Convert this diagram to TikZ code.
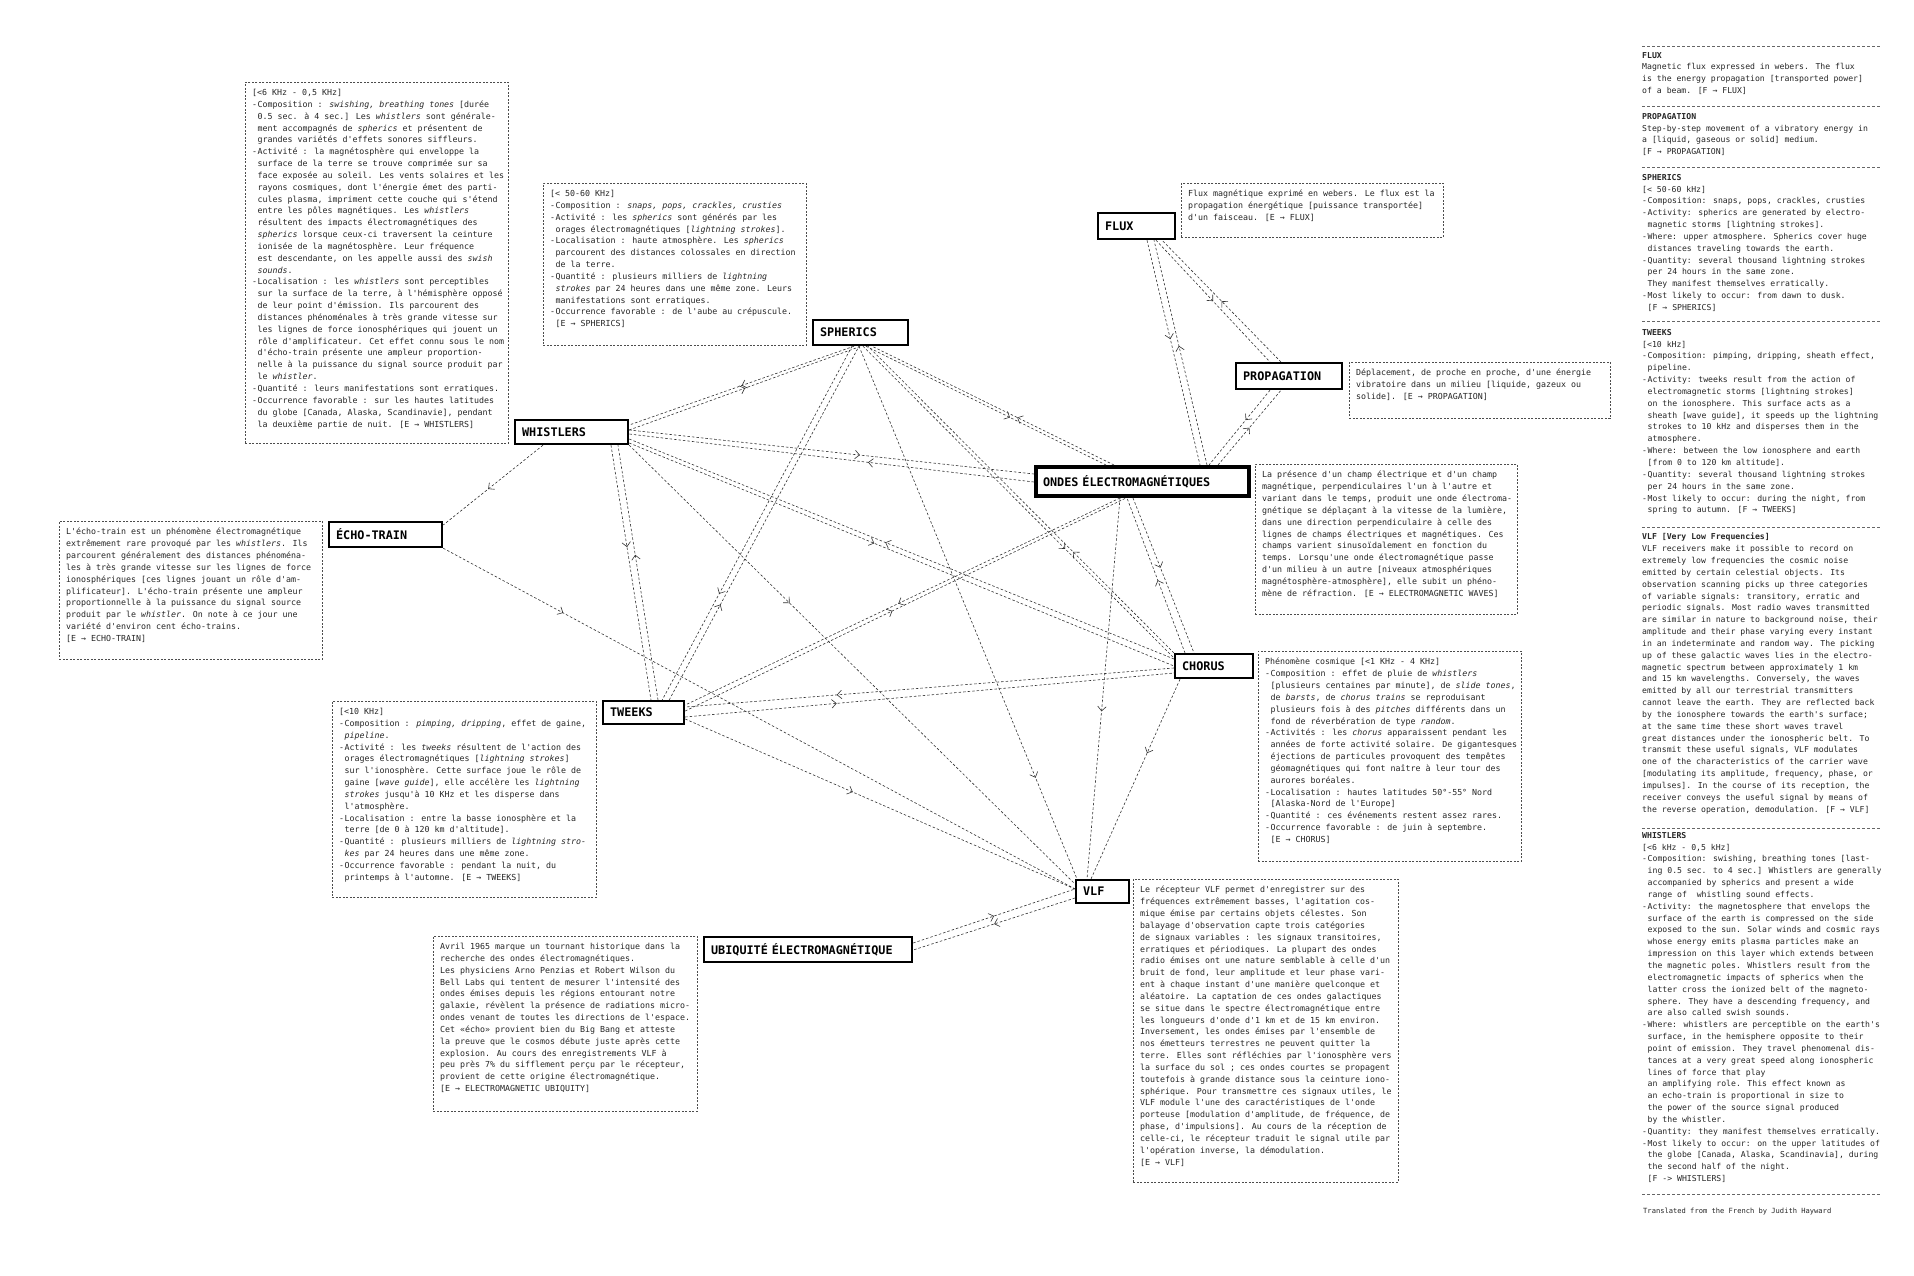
\documentclass[tikz,border=0pt]{standalone}
\usepackage{fontspec}
\newfontfamily\mono{DejaVu Sans Mono}
\usetikzlibrary{arrows.meta,decorations.markings,calc}
\newcommand\bodyf{\mono\fontsize{8.3}{11.84}\selectfont}
\newcommand\rbodyf{\mono\fontsize{8.15}{11.84}\selectfont}
\newcommand\lblf{\mono\bfseries\fontsize{11.8}{14}\selectfont}
\newcommand\smallf{\mono\fontsize{7.1}{9}\selectfont}
\newcommand\di{\makebox[5.5pt][l]{-}}
\newcommand\ci{\hspace*{5.5pt}}
\tikzset{
 lbl/.style={draw, line width=2.2pt, anchor=north west, inner xsep=7pt, inner ysep=0pt, font=\lblf, align=left},
 tbox/.style={draw=black!70, line width=0.6pt, dash pattern=on 2pt off 1.5pt, anchor=north west, inner sep=0pt},
 ttext/.style={anchor=north west, inner sep=0pt, font=\bodyf, align=left, text=black!85},
 rtext/.style={anchor=north west, inner sep=0pt, font=\rbodyf, align=left, text=black!85},
 conn/.style={draw=black!80, line width=0.6pt, dash pattern=on 2.5pt off 2pt},
 ma/.style={postaction={decorate, decoration={markings, mark=at position #1 with {\arrow[solid, black!80, line width=0.6pt]{Straight Barb[length=4.5pt,width=8.5pt]}}}}},
 sepl/.style={draw=black!60, line width=0.6pt, dash pattern=on 2.5pt off 2.5pt},
}
\begin{document}
\begin{tikzpicture}[x=1pt,y=-1pt]
\useasboundingbox (0,0) rectangle (1914,1276);
\fill[white] (0,0) rectangle (1914,1276);

% ---------- labelled nodes ----------
\node[lbl, minimum height=26pt, text width=63pt] (flux) at (1097,212) {FLUX};
\node[lbl, minimum height=25pt, text width=81pt] (spherics) at (812,319) {SPHERICS};
\node[lbl, minimum height=26pt, text width=92pt] (prop) at (1235,362) {PROPAGATION};
\node[lbl, minimum height=24pt, text width=99pt] (whistlers) at (514,419) {WHISTLERS};
\node[lbl, line width=4pt, minimum height=29pt, text width=199pt] (ondes) at (1034,465) {ONDES ÉLECTROMAGNÉTIQUES};
\node[lbl, minimum height=25pt, text width=99pt] (echo) at (328,521) {ÉCHO-TRAIN};
\node[lbl, minimum height=24pt, text width=64pt] (chorus) at (1174,653) {CHORUS};
\node[lbl, minimum height=23pt, text width=67pt] (tweeks) at (602,700) {TWEEKS};
\node[lbl, minimum height=23pt, text width=39pt] (vlf) at (1075,879) {VLF};
\node[lbl, minimum height=25pt, text width=194pt] (ubiq) at (703,936) {UBIQUITÉ ÉLECTROMAGNÉTIQUE};

% ---------- connectors ----------
% spherics - whistlers
\draw[conn, ma=0.5] ($(spherics.south west)+(42,0)$) -- ($(whistlers.north east)+(0,6)$);
\draw[conn, ma=0.5] ($(whistlers.north east)+(0,11)$) -- ($(spherics.south west)+(49,0)$);
% spherics - ondes
\draw[conn, ma=0.6] ($(spherics.south west)+(54,0)$) -- ($(ondes.north west)+(72,0)$);
\draw[conn, ma=0.4] ($(ondes.north west)+(80,0)$) -- ($(spherics.south west)+(60,0)$);
% whistlers - ondes
\draw[conn, ma=0.57] ($(whistlers.north east)+(0,11)$) -- ($(ondes.north west)+(0,9)$);
\draw[conn, ma=0.41] ($(ondes.north west)+(0,17)$) -- ($(whistlers.north east)+(0,15)$);
% whistlers - chorus
\draw[conn, ma=0.53] ($(chorus.north west)+(0,6)$) -- ($(whistlers.north east)+(0,20)$);
\draw[conn, ma=0.45] ($(whistlers.north east)+(0,24)$) -- ($(chorus.north west)+(0,13)$);
% whistlers - vlf
\draw[conn, ma=0.36] (whistlers.south east) -- ($(vlf.north west)+(0,5)$);
% whistlers - tweeks
\draw[conn, ma=0.4] ($(whistlers.south west)+(97,0)$) -- ($(tweeks.north west)+(49,0)$);
\draw[conn, ma=0.57] ($(tweeks.north west)+(56,0)$) -- ($(whistlers.south west)+(104,0)$);
% whistlers - echo
\draw[conn, ma=0.55] ($(whistlers.south west)+(29,0)$) -- ($(echo.north east)+(0,4)$);
% echo - vlf
\draw[conn, ma=0.19] (echo.south east) -- ($(vlf.north west)+(0,10)$);
% tweeks - vlf
\draw[conn, ma=0.43] ($(tweeks.north east)+(0,19)$) -- ($(vlf.north west)+(0,10)$);
% tweeks - ondes
\draw[conn, ma=0.51] ($(ondes.south west)+(86,0)$) -- ($(tweeks.north east)+(0,5)$);
\draw[conn, ma=0.47] ($(tweeks.north east)+(0,11)$) -- ($(ondes.south west)+(92,0)$);
% tweeks - chorus
\draw[conn, ma=0.69] ($(chorus.north west)+(0,15)$) -- ($(tweeks.north east)+(0,7)$);
\draw[conn, ma=0.31] ($(tweeks.north east)+(0,17)$) -- ($(chorus.north west)+(0,20)$);
% spherics - tweeks
\draw[conn, ma=0.7] ($(spherics.south west)+(40,0)$) -- ($(tweeks.north east)+(-23,0)$);
\draw[conn, ma=0.27] ($(tweeks.north east)+(-16,0)$) -- ($(spherics.south west)+(47,0)$);
% spherics - vlf
\draw[conn, ma=0.81] ($(spherics.south west)+(47,0)$) -- ($(vlf.north west)+(2,0)$);
% spherics - chorus
\draw[conn, ma=0.65] ($(spherics.south west)+(51,0)$) -- ($(chorus.north west)+(0,5)$);
\draw[conn, ma=0.33] (chorus.north west) -- ($(spherics.south west)+(56,0)$);
% ondes - chorus
\draw[conn, ma=0.47] ($(chorus.north west)+(11,0)$) -- ($(ondes.south west)+(93,0)$);
\draw[conn, ma=0.45] ($(ondes.south west)+(99,0)$) -- ($(chorus.north west)+(20,0)$);
% ondes - vlf
\draw[conn, ma=0.56] ($(ondes.south west)+(86,0)$) -- ($(vlf.north west)+(12,0)$);
% chorus - vlf
\draw[conn, ma=0.37] ($(chorus.south west)+(6,0)$) -- ($(vlf.north west)+(16,0)$);
% flux - ondes
\draw[conn, ma=0.44] ($(flux.south west)+(50,0)$) -- ($(ondes.north west)+(166,0)$);
\draw[conn, ma=0.53] ($(ondes.north west)+(173,0)$) -- ($(flux.south west)+(57,0)$);
% flux - propagation
\draw[conn, ma=0.5] ($(flux.south west)+(59,0)$) -- ($(prop.north west)+(35,0)$);
\draw[conn, ma=0.5] ($(prop.north west)+(46,0)$) -- ($(flux.south west)+(65,0)$);
% propagation - ondes
\draw[conn, ma=0.4] ($(prop.south west)+(35,0)$) -- ($(ondes.north west)+(175,0)$);
\draw[conn, ma=0.5] ($(ondes.north west)+(184,0)$) -- ($(prop.south west)+(46,0)$);
% ubiquite - vlf
\draw[conn, ma=0.5] ($(ubiq.north east)+(0,7)$) -- ($(vlf.north west)+(0,10)$);
\draw[conn, ma=0.5] ($(vlf.north west)+(0,19)$) -- ($(ubiq.north east)+(0,14)$);

% ---------- text boxes ----------
\node[tbox, minimum width=263pt, minimum height=361pt] (wbox) at (245,82) {};
\node[ttext] (wtxt) at ($(wbox.north west)+(7,7)$) {%
{[}<6 KHz - 0,5 KHz]\\
\di Composition : \textit{swishing, breathing tones} [durée\\
\ci 0.5 sec. à 4 sec.] Les \textit{whistlers} sont générale-\\
\ci ment accompagnés de \textit{spherics} et présentent de\\
\ci grandes variétés d'effets sonores siffleurs.\\
\di Activité : la magnétosphère qui enveloppe la\\
\ci surface de la terre se trouve comprimée sur sa\\
\ci face exposée au soleil. Les vents solaires et les\\
\ci rayons cosmiques, dont l'énergie émet des parti-\\
\ci cules plasma, impriment cette couche qui s'étend\\
\ci entre les pôles magnétiques. Les \textit{whistlers}\\
\ci résultent des impacts électromagnétiques des\\
\ci \textit{spherics} lorsque ceux-ci traversent la ceinture\\
\ci ionisée de la magnétosphère. Leur fréquence\\
\ci est descendante, on les appelle aussi des \textit{swish}\\
\ci \textit{sounds}.\\
\di Localisation : les \textit{whistlers} sont perceptibles\\
\ci sur la surface de la terre, à l'hémisphère opposé\\
\ci de leur point d'émission. Ils parcourent des\\
\ci distances phénoménales à très grande vitesse sur\\
\ci les lignes de force ionosphériques qui jouent un\\
\ci rôle d'amplificateur. Cet effet connu sous le nom\\
\ci d'écho-train présente une ampleur proportion-\\
\ci nelle à la puissance du signal source produit par\\
\ci le \textit{whistler}.\\
\di Quantité : leurs manifestations sont erratiques.\\
\di Occurrence favorable : sur les hautes latitudes\\
\ci du globe [Canada, Alaska, Scandinavie], pendant\\
\ci la deuxième partie de nuit. [E → WHISTLERS]};

\node[tbox, minimum width=263pt, minimum height=162pt] (sbox) at (543,183) {};
\node[ttext] (stxt) at ($(sbox.north west)+(7,7)$) {%
{[}< 50-60 KHz]\\
\di Composition : \textit{snaps, pops, crackles, crusties}\\
\di Activité : les \textit{spherics} sont générés par les\\
\ci orages électromagnétiques [\textit{lightning strokes}].\\
\di Localisation : haute atmosphère. Les \textit{spherics}\\
\ci parcourent des distances colossales en direction\\
\ci de la terre.\\
\di Quantité : plusieurs milliers de \textit{lightning}\\
\ci \textit{strokes} par 24 heures dans une même zone. Leurs\\
\ci manifestations sont erratiques.\\
\di Occurrence favorable : de l'aube au crépuscule.\\
\ci [E → SPHERICS]};

\node[tbox, minimum width=262pt, minimum height=54pt] (fbox) at (1181,183) {};
\node[ttext] (ftxt) at ($(fbox.north west)+(7,7)$) {%
Flux magnétique exprimé en webers. Le flux est la\\
propagation énergétique [puissance transportée]\\
d'un faisceau. [E → FLUX]};

\node[tbox, minimum width=261pt, minimum height=56pt] (pbox) at (1349,362) {};
\node[ttext] (ptxt) at ($(pbox.north west)+(7,7)$) {%
Déplacement, de proche en proche, d'une énergie\\
vibratoire dans un milieu [liquide, gazeux ou\\
solide]. [E → PROPAGATION]};

\node[tbox, minimum width=262pt, minimum height=150pt] (obox) at (1255,464) {};
\node[ttext] (otxt) at ($(obox.north west)+(7,7)$) {%
La présence d'un champ électrique et d'un champ\\
magnétique, perpendiculaires l'un à l'autre et\\
variant dans le temps, produit une onde électroma-\\
gnétique se déplaçant à la vitesse de la lumière,\\
dans une direction perpendiculaire à celle des\\
lignes de champs électriques et magnétiques. Ces\\
champs varient sinusoïdalement en fonction du\\
temps. Lorsqu'une onde électromagnétique passe\\
d'un milieu à un autre [niveaux atmosphériques\\
magnétosphère-atmosphère], elle subit un phéno-\\
mène de réfraction. [E → ELECTROMAGNETIC WAVES]};

\node[tbox, minimum width=263pt, minimum height=138pt] (ebox) at (59,521) {};
\node[ttext] (etxt) at ($(ebox.north west)+(7,7)$) {%
L'écho-train est un phénomène électromagnétique\\
extrêmement rare provoqué par les \textit{whistlers}. Ils\\
parcourent généralement des distances phénoména-\\
les à très grande vitesse sur les lignes de force\\
ionosphériques [ces lignes jouant un rôle d'am-\\
plificateur]. L'écho-train présente une ampleur\\
proportionnelle à la puissance du signal source\\
produit par le \textit{whistler}. On note à ce jour une\\
variété d'environ cent écho-trains.\\
{[}E → ECHO-TRAIN]};

\node[tbox, minimum width=264pt, minimum height=196pt] (tbx) at (332,701) {};
\node[ttext] (ttxt) at ($(tbx.north west)+(7,7)$) {%
{[}<10 KHz]\\
\di Composition : \textit{pimping, dripping}, effet de gaine,\\
\ci \textit{pipeline}.\\
\di Activité : les \textit{tweeks} résultent de l'action des\\
\ci orages électromagnétiques [\textit{lightning strokes}]\\
\ci sur l'ionosphère. Cette surface joue le rôle de\\
\ci gaine [\textit{wave guide}], elle accélère les \textit{lightning}\\
\ci \textit{strokes} jusqu'à 10 KHz et les disperse dans\\
\ci l'atmosphère.\\
\di Localisation : entre la basse ionosphère et la\\
\ci terre [de 0 à 120 km d'altitude].\\
\di Quantité : plusieurs milliers de \textit{lightning stro-}\\
\ci \textit{kes} par 24 heures dans une même zone.\\
\di Occurrence favorable : pendant la nuit, du\\
\ci printemps à l'automne. [E → TWEEKS]};

\node[tbox, minimum width=263pt, minimum height=210pt] (cbox) at (1258,651) {};
\node[ttext] (ctxt) at ($(cbox.north west)+(7,7)$) {%
Phénomène cosmique [<1 KHz - 4 KHz]\\
\di Composition : effet de pluie de \textit{whistlers}\\
\ci [plusieurs centaines par minute], de \textit{slide tones},\\
\ci de \textit{barsts}, de \textit{chorus trains} se reproduisant\\
\ci plusieurs fois à des \textit{pitches} différents dans un\\
\ci fond de réverbération de type \textit{random}.\\
\di Activités : les \textit{chorus} apparaissent pendant les\\
\ci années de forte activité solaire. De gigantesques\\
\ci éjections de particules provoquent des tempêtes\\
\ci géomagnétiques qui font naître à leur tour des\\
\ci aurores boréales.\\
\di Localisation : hautes latitudes 50°-55° Nord\\
\ci [Alaska-Nord de l'Europe]\\
\di Quantité : ces événements restent assez rares.\\
\di Occurrence favorable : de juin à septembre.\\
\ci [E → CHORUS]};

\node[tbox, minimum width=264pt, minimum height=175pt] (ubox) at (433,936) {};
\node[ttext] (utxt) at ($(ubox.north west)+(7,7)$) {%
Avril 1965 marque un tournant historique dans la\\
recherche des ondes électromagnétiques.\\
Les physiciens Arno Penzias et Robert Wilson du\\
Bell Labs qui tentent de mesurer l'intensité des\\
ondes émises depuis les régions entourant notre\\
galaxie, révèlent la présence de radiations micro-\\
ondes venant de toutes les directions de l'espace.\\
Cet «écho» provient bien du Big Bang et atteste\\
la preuve que le cosmos débute juste après cette\\
explosion. Au cours des enregistrements VLF à\\
peu près 7\% du sifflement perçu par le récepteur,\\
provient de cette origine électromagnétique.\\
{[}E → ELECTROMAGNETIC UBIQUITY]};

\node[tbox, minimum width=265pt, minimum height=303pt] (vbox) at (1133,879) {};
\node[ttext] (vtxt) at ($(vbox.north west)+(7,7)$) {%
Le récepteur VLF permet d'enregistrer sur des\\
fréquences extrêmement basses, l'agitation cos-\\
mique émise par certains objets célestes. Son\\
balayage d'observation capte trois catégories\\
de signaux variables : les signaux transitoires,\\
erratiques et périodiques. La plupart des ondes\\
radio émises ont une nature semblable à celle d'un\\
bruit de fond, leur amplitude et leur phase vari-\\
ent à chaque instant d'une manière quelconque et\\
aléatoire. La captation de ces ondes galactiques\\
se situe dans le spectre électromagnétique entre\\
les longueurs d'onde d'1 km et de 15 km environ.\\
Inversement, les ondes émises par l'ensemble de\\
nos émetteurs terrestres ne peuvent quitter la\\
terre. Elles sont réfléchies par l'ionosphère vers\\
la surface du sol ; ces ondes courtes se propagent\\
toutefois à grande distance sous la ceinture iono-\\
sphérique. Pour transmettre ces signaux utiles, le\\
VLF module l'une des caractéristiques de l'onde\\
porteuse [modulation d'amplitude, de fréquence, de\\
phase, d'impulsions]. Au cours de la réception de\\
celle-ci, le récepteur traduit le signal utile par\\
l'opération inverse, la démodulation.\\
{[}E → VLF]};

% ---------- right column ----------
\foreach \yy in {46,106,167,321,527,828,1194} \draw[sepl] (1642,\yy) -- (1880,\yy);
\node[rtext] (rflux) at (1642,52) {%
\textbf{FLUX}\\
Magnetic flux expressed in webers. The flux\\
is the energy propagation [transported power]\\
of a beam. [F → FLUX]};
\node[rtext] (rprop) at (1642,113) {%
\textbf{PROPAGATION}\\
Step-by-step movement of a vibratory energy in\\
a [liquid, gaseous or solid] medium.\\
{[}F → PROPAGATION]};
\node[rtext] (rsph) at (1642,174) {%
\textbf{SPHERICS}\\
{[}< 50-60 kHz]\\
\di Composition: snaps, pops, crackles, crusties\\
\di Activity: spherics are generated by electro-\\
\ci magnetic storms [lightning strokes].\\
\di Where: upper atmosphere. Spherics cover huge\\
\ci distances traveling towards the earth.\\
\di Quantity: several thousand lightning strokes\\
\ci per 24 hours in the same zone.\\
\ci They manifest themselves erratically.\\
\di Most likely to occur: from dawn to dusk.\\
\ci [F → SPHERICS]};
\node[rtext] (rtw) at (1642,329) {%
\textbf{TWEEKS}\\
{[}<10 kHz]\\
\di Composition: pimping, dripping, sheath effect,\\
\ci pipeline.\\
\di Activity: tweeks result from the action of\\
\ci electromagnetic storms [lightning strokes]\\
\ci on the ionosphere. This surface acts as a\\
\ci sheath [wave guide], it speeds up the lightning\\
\ci strokes to 10 kHz and disperses them in the\\
\ci atmosphere.\\
\di Where: between the low ionosphere and earth\\
\ci [from 0 to 120 km altitude].\\
\di Quantity: several thousand lightning strokes\\
\ci per 24 hours in the same zone.\\
\di Most likely to occur: during the night, from\\
\ci spring to autumn. [F → TWEEKS]};
\node[rtext] (rvlf) at (1642,533) {%
\textbf{VLF [Very Low Frequencies]}\\
VLF receivers make it possible to record on\\
extremely low frequencies the cosmic noise\\
emitted by certain celestial objects. Its\\
observation scanning picks up three categories\\
of variable signals: transitory, erratic and\\
periodic signals. Most radio waves transmitted\\
are similar in nature to background noise, their\\
amplitude and their phase varying every instant\\
in an indeterminate and random way. The picking\\
up of these galactic waves lies in the electro-\\
magnetic spectrum between approximately 1 km\\
and 15 km wavelengths. Conversely, the waves\\
emitted by all our terrestrial transmitters\\
cannot leave the earth. They are reflected back\\
by the ionosphere towards the earth's surface;\\
at the same time these short waves travel\\
great distances under the ionospheric belt. To\\
transmit these useful signals, VLF modulates\\
one of the characteristics of the carrier wave\\
{[}modulating its amplitude, frequency, phase, or\\
impulses]. In the course of its reception, the\\
receiver conveys the useful signal by means of\\
the reverse operation, demodulation. [F → VLF]};
\node[rtext] (rwh) at (1642,832) {%
\textbf{WHISTLERS}\\
{[}<6 kHz - 0,5 kHz]\\
\di Composition: swishing, breathing tones [last-\\
\ci ing 0.5 sec. to 4 sec.] Whistlers are generally\\
\ci accompanied by spherics and present a wide\\
\ci range of \ whistling sound effects.\\
\di Activity: the magnetosphere that envelops the\\
\ci surface of the earth is compressed on the side\\
\ci exposed to the sun. Solar winds and cosmic rays\\
\ci whose energy emits plasma particles make an\\
\ci impression on this layer which extends between\\
\ci the magnetic poles. Whistlers result from the\\
\ci electromagnetic impacts of spherics when the\\
\ci latter cross the ionized belt of the magneto-\\
\ci sphere. They have a descending frequency, and\\
\ci are also called swish sounds.\\
\di Where: whistlers are perceptible on the earth's\\
\ci surface, in the hemisphere opposite to their\\
\ci point of emission. They travel phenomenal dis-\\
\ci tances at a very great speed along ionospheric\\
\ci lines of force that play\\
\ci an amplifying role. This effect known as\\
\ci an echo-train is proportional in size to\\
\ci the power of the source signal produced\\
\ci by the whistler.\\
\di Quantity: they manifest themselves erratically.\\
\di Most likely to occur: on the upper latitudes of\\
\ci the globe [Canada, Alaska, Scandinavia], during\\
\ci the second half of the night.\\
\ci [F -> WHISTLERS]};
\node[anchor=north west, inner sep=0pt, font=\smallf, text=black!85] (trans) at (1643,1208) {Translated from the French by Judith Hayward};
\end{tikzpicture}
\end{document}
